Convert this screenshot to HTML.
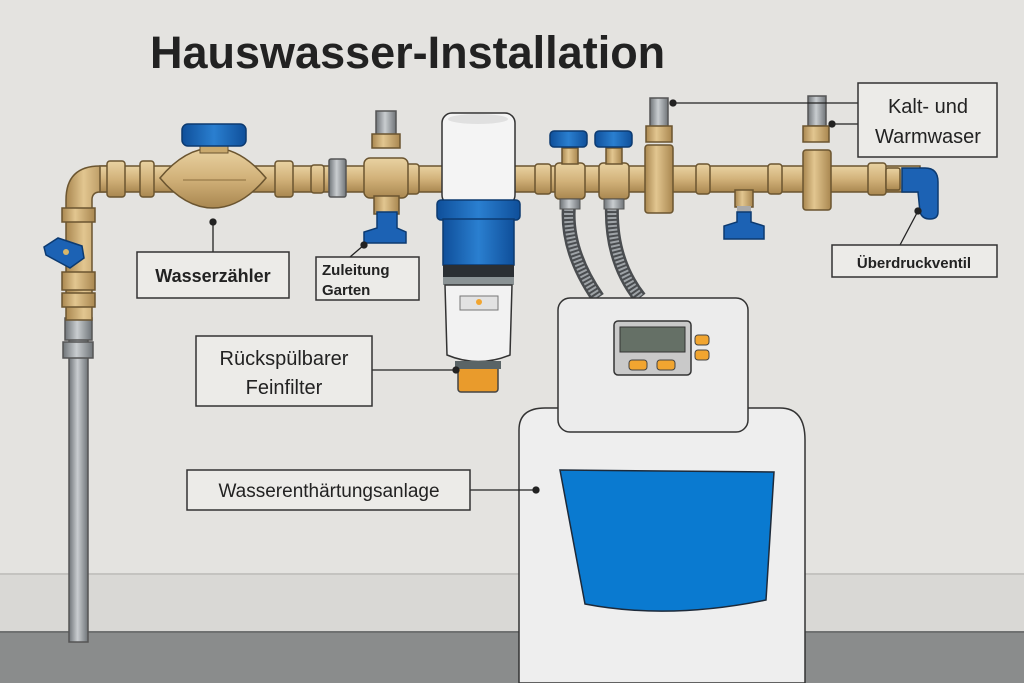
<!DOCTYPE html>
<html><head><meta charset="utf-8"><style>
html,body{margin:0;padding:0;width:1024px;height:683px;overflow:hidden;background:#e4e3e0}
svg{display:block}
text{font-family:"Liberation Sans",sans-serif;fill:#222}
</style></head><body>
<svg width="1024" height="683" viewBox="0 0 1024 683" xmlns="http://www.w3.org/2000/svg">
<defs>
<linearGradient id="brass" x1="0" y1="0" x2="0" y2="1"><stop offset="0" stop-color="#e9d2a2"/><stop offset="0.5" stop-color="#d2b27a"/><stop offset="1" stop-color="#a98750"/></linearGradient>
<linearGradient id="brassV" x1="0" y1="0" x2="1" y2="0"><stop offset="0" stop-color="#a98750"/><stop offset="0.4" stop-color="#e2c690"/><stop offset="1" stop-color="#a98750"/></linearGradient>
<linearGradient id="steel" x1="0" y1="0" x2="1" y2="0"><stop offset="0" stop-color="#6f7478"/><stop offset="0.45" stop-color="#c9cdd0"/><stop offset="1" stop-color="#6f7478"/></linearGradient>
<linearGradient id="blue" x1="0" y1="0" x2="1" y2="0"><stop offset="0" stop-color="#0f4f9a"/><stop offset="0.5" stop-color="#2a7fd0"/><stop offset="1" stop-color="#0f4f9a"/></linearGradient>
</defs>
<rect width="1024" height="683" fill="#e4e3e0"/>
<rect y="573" width="1024" height="59" fill="#d9d8d5"/>
<line x1="0" y1="574" x2="1024" y2="574" stroke="#c4c3c0" stroke-width="2"/>
<rect y="632" width="1024" height="51" fill="#8a8c8c"/>
<line x1="0" y1="632" x2="1024" y2="632" stroke="#6f7171" stroke-width="2"/>

<text x="150" y="68" font-size="45" font-weight="bold" fill="#333">Hauswasser-Installation</text>

<rect x="69" y="320" width="19" height="322" fill="url(#steel)" stroke="#555" stroke-width="1.5"/>
<rect x="65" y="318" width="27" height="22" fill="url(#steel)" stroke="#555" stroke-width="1.5"/>
<rect x="63" y="342" width="30" height="16" fill="url(#steel)" stroke="#555" stroke-width="1.5"/>
<path d="M66 320 L66 200 Q66 166 100 166 L110 166 L110 192 L100 192 Q92 192 92 200 L92 320 Z" fill="url(#brassV)" stroke="#6b5530" stroke-width="1.5"/>
<rect x="62" y="208" width="33" height="14" fill="url(#brassV)" stroke="#6b5530" stroke-width="1.5"/>
<rect x="62" y="272" width="33" height="18" fill="url(#brassV)" stroke="#6b5530" stroke-width="1.5"/>
<rect x="62" y="293" width="33" height="14" fill="url(#brassV)" stroke="#6b5530" stroke-width="1.5"/>
<path d="M44 247 L58 238 L82 246 L84 258 L70 268 L46 255 Z" fill="#1c62b4" stroke="#0c3a70" stroke-width="1.5"/>
<circle cx="66" cy="252" r="3" fill="#d9b76a"/>

<rect x="100" y="166" width="820" height="26" fill="url(#brass)" stroke="#6b5530" stroke-width="1.5"/>
<g fill="url(#brass)" stroke="#6b5530" stroke-width="1.5">
<rect x="107" y="161" width="18" height="36" rx="3"/>
<rect x="140" y="161" width="14" height="36" rx="3"/>
<rect x="275" y="161" width="18" height="36" rx="3"/>
<rect x="311" y="165" width="13" height="28" rx="3"/>
<rect x="405" y="164" width="14" height="30" rx="3"/>
<rect x="535" y="164" width="16" height="30" rx="3"/>
<rect x="696" y="164" width="14" height="30" rx="3"/>
<rect x="768" y="164" width="14" height="30" rx="3"/>
<rect x="868" y="163" width="18" height="32" rx="3"/>
<rect x="886" y="168" width="14" height="22" rx="2"/>
</g>
<rect x="329" y="159" width="17" height="38" rx="2" fill="url(#steel)" stroke="#555" stroke-width="1.5"/>
<path d="M160 178 Q185 148 213 148 Q241 148 266 178 Q241 208 213 208 Q185 208 160 178 Z" fill="url(#brass)" stroke="#6b5530" stroke-width="1.5"/>
<line x1="183" y1="180" x2="246" y2="180" stroke="#8b6d3e" stroke-width="1"/>
<rect x="200" y="143" width="28" height="10" fill="#c9a96e" stroke="#6b5530"/>
<rect x="182" y="124" width="64" height="22" rx="6" fill="url(#blue)" stroke="#0c3a70" stroke-width="1.5"/>
<rect x="376" y="111" width="20" height="24" fill="url(#steel)" stroke="#555" stroke-width="1.5"/>
<rect x="372" y="134" width="28" height="14" fill="url(#brassV)" stroke="#6b5530" stroke-width="1.5"/>
<rect x="364" y="158" width="44" height="40" rx="6" fill="url(#brass)" stroke="#6b5530" stroke-width="1.5"/>
<rect x="374" y="196" width="25" height="18" fill="url(#brassV)" stroke="#6b5530" stroke-width="1.5"/>
<path d="M377 212 L397 212 L397 228 L406 232 L406 243 L364 243 L364 232 L377 228 Z" fill="#1c62b4" stroke="#0c3a70" stroke-width="1.5"/>
<rect x="442" y="113" width="73" height="92" rx="10" fill="#f4f4f4" stroke="#333" stroke-width="1.5"/>
<ellipse cx="478" cy="119" rx="30" ry="5" fill="#e0e0e0"/>
<rect x="437" y="200" width="83" height="20" rx="4" fill="url(#blue)" stroke="#0c3a70" stroke-width="1.5"/>
<rect x="443" y="219" width="71" height="46" fill="url(#blue)" stroke="#0c3a70" stroke-width="1.5"/>
<rect x="443" y="265" width="71" height="12" fill="#2b2f33"/>
<rect x="443" y="277" width="71" height="8" fill="#8a9294"/>
<path d="M445 285 L512 285 L510 355 Q478 368 447 355 Z" fill="#f2f2f2" stroke="#333" stroke-width="1.5"/>
<rect x="460" y="296" width="38" height="14" fill="#e2e2e2" stroke="#777"/>
<circle cx="479" cy="302" r="3" fill="#f1a530"/>
<rect x="458" y="365" width="40" height="27" rx="3" fill="#e99b2c" stroke="#444" stroke-width="1.5"/>
<rect x="455" y="361" width="46" height="8" fill="#5a6466"/>
<path d="M569 205 Q565 250 598 298" fill="none" stroke="#4a4d50" stroke-width="14"/>
<path d="M569 205 Q565 250 598 298" fill="none" stroke="#9ea3a7" stroke-width="9" stroke-dasharray="2 2"/>
<path d="M612 205 Q610 260 640 298" fill="none" stroke="#4a4d50" stroke-width="14"/>
<path d="M612 205 Q610 260 640 298" fill="none" stroke="#9ea3a7" stroke-width="9" stroke-dasharray="2 2"/>
<g stroke="#6b5530" stroke-width="1.5">
<rect x="555" y="163" width="30" height="36" rx="4" fill="url(#brass)"/>
<rect x="599" y="163" width="30" height="36" rx="4" fill="url(#brass)"/>
<rect x="562" y="148" width="16" height="16" fill="url(#brassV)"/>
<rect x="606" y="148" width="16" height="16" fill="url(#brassV)"/>
</g>
<rect x="560" y="199" width="20" height="10" fill="url(#steel)" stroke="#555"/>
<rect x="604" y="199" width="20" height="10" fill="url(#steel)" stroke="#555"/>
<rect x="550" y="131" width="37" height="16" rx="4" fill="url(#blue)" stroke="#0c3a70" stroke-width="1.5"/>
<rect x="595" y="131" width="37" height="16" rx="4" fill="url(#blue)" stroke="#0c3a70" stroke-width="1.5"/>
<g stroke="#6b5530" stroke-width="1.5">
<rect x="650" y="98" width="18" height="30" fill="url(#steel)" stroke="#555"/>
<rect x="646" y="126" width="26" height="16" fill="url(#brassV)"/>
<rect x="645" y="145" width="28" height="68" rx="3" fill="url(#brassV)"/>
<rect x="808" y="96" width="18" height="30" fill="url(#steel)" stroke="#555"/>
<rect x="803" y="126" width="26" height="16" fill="url(#brassV)"/>
<rect x="803" y="150" width="28" height="60" rx="3" fill="url(#brassV)"/>
<rect x="735" y="190" width="18" height="17" fill="url(#brassV)"/>
</g>
<rect x="737" y="206" width="14" height="6" fill="#aaa"/>
<path d="M737 212 L751 212 L751 222 L764 226 L764 239 L724 239 L724 226 L737 222 Z" fill="#1c62b4" stroke="#0c3a70" stroke-width="1.5"/>
<path d="M902 168 L925 168 Q938 168 938 182 L938 212 Q938 219 930 219 Q922 219 920 212 L918 192 L902 192 Z" fill="#1c62b4" stroke="#0c3a70" stroke-width="1.5"/>

<path d="M519 683 L519 430 Q519 408 545 408 L780 408 Q805 408 805 440 L805 683 Z" fill="#eeeeee" stroke="#333" stroke-width="1.5"/>
<path d="M560 470 L774 472 L766 600 Q668 620 585 604 Z" fill="#0a7ad0" stroke="#1d2a3a" stroke-width="1.5"/>
<rect x="558" y="298" width="190" height="134" rx="12" fill="#ececec" stroke="#333" stroke-width="1.5"/>
<rect x="614" y="321" width="77" height="54" rx="4" fill="#c9c9c9" stroke="#333" stroke-width="1.5"/>
<rect x="620" y="327" width="65" height="25" fill="#657066" stroke="#333"/>
<rect x="629" y="360" width="18" height="10" rx="3" fill="#f1a530" stroke="#444"/>
<rect x="657" y="360" width="18" height="10" rx="3" fill="#f1a530" stroke="#444"/>
<rect x="695" y="335" width="14" height="10" rx="3" fill="#f1a530" stroke="#444"/>
<rect x="695" y="350" width="14" height="10" rx="3" fill="#f1a530" stroke="#444"/>

<g stroke="#222" stroke-width="1.3" fill="#222">
<line x1="213" y1="222" x2="213" y2="252"/><circle cx="213" cy="222" r="3"/>
<line x1="364" y1="245" x2="350" y2="257"/><circle cx="364" cy="245" r="3"/>
<line x1="372" y1="370" x2="456" y2="370"/><circle cx="456" cy="370" r="3"/>
<line x1="470" y1="490" x2="536" y2="490"/><circle cx="536" cy="490" r="3"/>
<line x1="673" y1="103" x2="858" y2="103"/><circle cx="673" cy="103" r="3"/>
<line x1="832" y1="124" x2="858" y2="124"/><circle cx="832" cy="124" r="3"/>
<line x1="918" y1="211" x2="900" y2="245"/><circle cx="918" cy="211" r="3"/>
</g>

<g fill="#ecebe8" stroke="#333" stroke-width="1.5">
<rect x="137" y="252" width="152" height="46"/>
<rect x="316" y="257" width="103" height="43"/>
<rect x="196" y="336" width="176" height="70"/>
<rect x="858" y="83" width="139" height="74"/>
<rect x="832" y="245" width="165" height="32"/>
<rect x="187" y="470" width="283" height="40"/>
</g>
<text x="213" y="282" font-size="18" font-weight="bold" text-anchor="middle">Wasserzähler</text>
<text x="322" y="275" font-size="15" font-weight="bold">Zuleitung</text>
<text x="322" y="295" font-size="15" font-weight="bold">Garten</text>
<text x="284" y="365" font-size="20" text-anchor="middle">Rückspülbarer</text>
<text x="284" y="394" font-size="20" text-anchor="middle">Feinfilter</text>
<text x="928" y="113" font-size="20" text-anchor="middle">Kalt- und</text>
<text x="928" y="143" font-size="20" text-anchor="middle">Warmwaser</text>
<text x="914" y="268" font-size="15" font-weight="bold" text-anchor="middle">Überdruckventil</text>
<text x="329" y="497" font-size="19" text-anchor="middle">Wasserenthärtungsanlage</text>
</svg>
</body></html>
